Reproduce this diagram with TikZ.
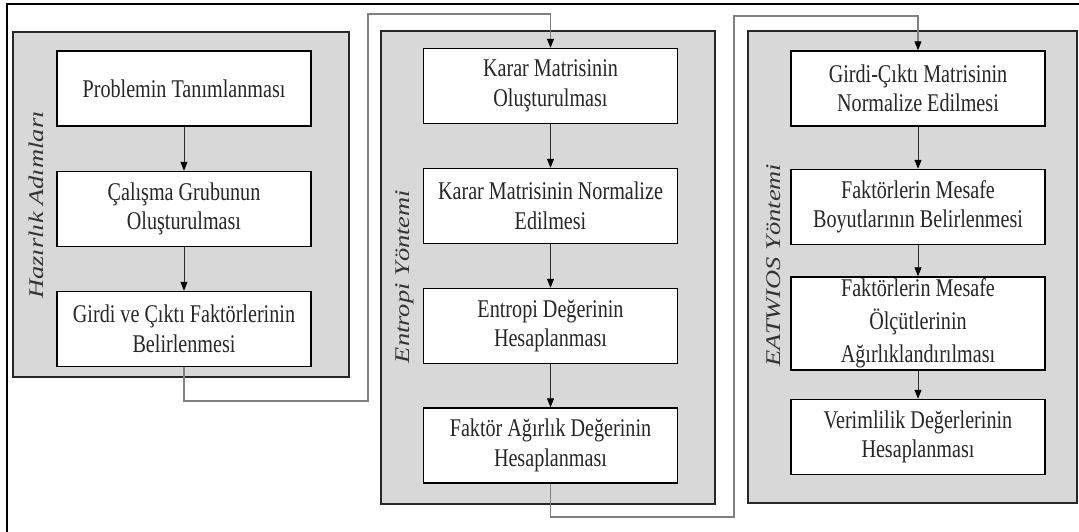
\documentclass[tikz,border=0pt]{standalone}
\usepackage{fontspec}
\setmainfont{Liberation Serif}[FakeStretch=0.79]
\newfontfamily\labfont{Liberation Serif}[FakeStretch=1.266]
\usetikzlibrary{arrows.meta}
\definecolor{panelfill}{RGB}{216,216,216}
\definecolor{paneldraw}{RGB}{40,40,40}
\definecolor{conngray}{RGB}{128,128,128}
\definecolor{arrowgray}{RGB}{45,45,45}
\tikzset{
  panel/.style={draw=paneldraw, fill=panelfill, line width=1.5pt, inner sep=0pt},
  stepbox/.style={draw=black, fill=white, line width=1.5pt, minimum width=254pt, minimum height=75pt,
    inner sep=0pt, align=center, font=\fontsize{25.5}{29.5}\selectfont, text=black!85},
  lab/.style={rotate=90, anchor=base, font=\labfont\itshape\fontsize{20.9}{24}\selectfont, text=black!80},
  flow/.style={draw=arrowgray, line width=0.8pt, -{Triangle[length=9pt,width=7pt,color=black]}},
  conn/.style={draw=conngray, line width=1.1pt},
  connarrow/.style={conn, -{Triangle[length=9pt,width=7pt,color=black]}}
}
\begin{document}
\begin{tikzpicture}[x=1pt,y=-1pt]
\useasboundingbox (0,0) rectangle (1079,531);
\clip (0,0) rectangle (1079,531);
\node[draw=black, line width=2pt, minimum width=1100pt, minimum height=560pt, anchor=north west, inner sep=0pt] (frame) at (6,3) {};

% panels
\node[panel, minimum width=336pt, minimum height=345pt] (P1) at (181,204.5) {};
\node[panel, minimum width=334pt, minimum height=473pt] (P2) at (548,267.5) {};
\node[panel, minimum width=329pt, minimum height=472pt] (P3) at (912.5,267) {};

% labels
\node[lab] (L1) at (43,205) {Hazırlık Adımları};
\node[lab] (L2) at (409,276.5) {Entropi Yöntemi};
\node[lab] (L3) at (780,265) {EATWIOS Yöntemi};

% panel 1 boxes
\node[stepbox] (h1) at (184,88.5) {Problemin Tanımlanması};
\node[stepbox] (h2) at (184,209) {Çalışma Grubunun\\Oluşturulması};
\node[stepbox] (h3) at (184,329) {Girdi ve Çıktı Faktörlerinin\\Belirlenmesi};

% panel 2 boxes
\node[stepbox] (e1) at (550.5,86) {Karar Matrisinin\\Oluşturulması};
\node[stepbox] (e2) at (550.5,206) {Karar Matrisinin Normalize\\Edilmesi};
\node[stepbox] (e3) at (550.5,326) {Entropi Değerinin\\Hesaplanması};
\node[stepbox] (e4) at (550.5,445.5) {Faktör Ağırlık Değerinin\\Hesaplanması};

% panel 3 boxes
\node[stepbox] (a1) at (918,88.5) {Girdi-Çıktı Matrisinin\\Normalize Edilmesi};
\node[stepbox] (a2) at (918,207) {Faktörlerin Mesafe\\Boyutlarının Belirlenmesi};
\node[stepbox, minimum height=93pt, font=\fontsize{25.5}{33}\selectfont] (a3) at (918,323.5) {Faktörlerin Mesafe\\Ölçütlerinin\\Ağırlıklandırılması};
\node[stepbox] (a4) at (918,437) {Verimlilik Değerlerinin\\Hesaplanması};

% arrows inside panels
\draw[flow] (h1) -- (h2);
\draw[flow] (h2) -- (h3);
\draw[flow] (e1) -- (e2);
\draw[flow] (e2) -- (e3);
\draw[flow] (e3) -- (e4);
\draw[flow] (a1) -- (a2);
\draw[flow] (a2) -- (a3);
\draw[flow] (a3) -- (a4);

% connectors between panels
\coordinate (k1) at (368,401);
\coordinate (k2) at (368,14);
\coordinate (m1) at (734,517);
\coordinate (m2) at (734,16);
\draw[connarrow] (h3.south) |- (k1) -- (k2) -| (e1.north);
\draw[connarrow] (e4.south) |- (m1) -- (m2) -| (a1.north);
\end{tikzpicture}
\end{document}
